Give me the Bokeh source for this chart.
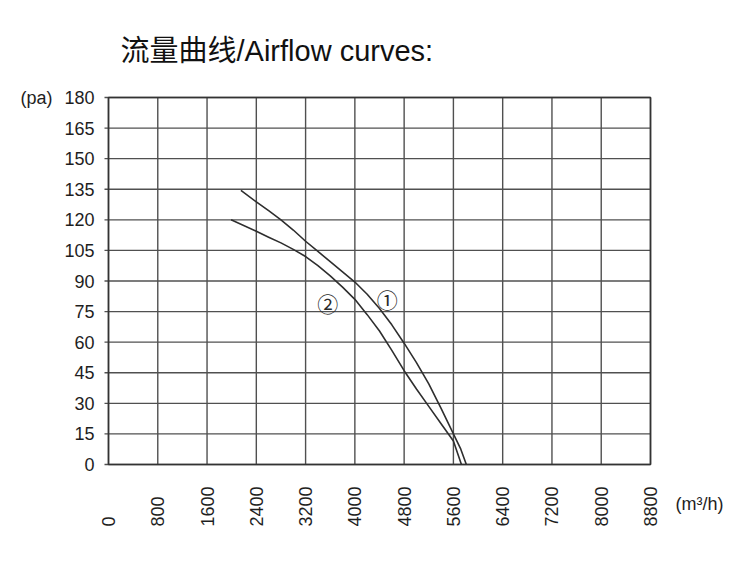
import math
from bokeh.plotting import figure
from bokeh.models import Range1d
from bokeh.core.properties import value
from bokeh.embed import file_html
from bokeh.resources import INLINE

# ---- data ----
x_ticks = [0, 800, 1600, 2400, 3200, 4000, 4800, 5600, 6400, 7200, 8000, 8800]
x_tick_labels = [str(t) for t in x_ticks]
y_ticks = [0, 15, 30, 45, 60, 75, 90, 105, 120, 135, 150, 165, 180]
y_tick_labels = [str(t) for t in y_ticks]

curve1_x = [2150, 2400, 2600, 2800, 3000, 3200, 3400, 3600, 3800, 4000,
            4200, 4400, 4600, 4800, 5000, 5200, 5400, 5600, 5720, 5810]
curve1_y = [134.5, 128.8, 124.5, 120, 115, 109.5, 104.5, 99.5, 94.5, 89.5,
            83.5, 76.5, 68.5, 59.5, 50, 39.5, 27.5, 15, 7.5, 0]

curve2_x = [1990, 2400, 2600, 2800, 3000, 3200, 3400, 3600, 3800, 4000,
            4200, 4400, 4600, 4800, 5000, 5200, 5400, 5600, 5730]
curve2_y = [120, 114.4, 111.5, 108.7, 105.5, 102, 97.5, 92.5, 87, 81,
            73.5, 65.5, 56, 46, 37, 28.5, 20, 11.5, 0]

curve_names = ["①", "②"]
curve_label_x = [4525, 3561]
curve_label_y = [81.3, 79.1]

title_text = "流量曲线/Airflow curves:"
y_unit = "(pa)"
x_unit = "(m³/h)"

# ---- page geometry: the whole canvas is the data frame ----
W, H = 750, 574
PX_LEFT, PX_RIGHT = 108, 650      # pixel columns of x = 0 and x = 8800
PX_ZERO, PX_TOP = 464, 97         # pixel rows of y = 0 and y = 180
kx = (PX_RIGHT - PX_LEFT) / (x_ticks[-1] - x_ticks[0])
ky = (PX_ZERO - PX_TOP) / (y_ticks[-1] - y_ticks[0])


def dx(px):
    return (px - PX_LEFT) / kx


def dy(py):
    return (PX_ZERO - py) / ky


FONT = "Liberation Sans, Arial, Noto Sans CJK SC"
INK = "#1e1e1e"
GRID = "#505050"

p = figure(width=W, height=H, output_backend="svg", toolbar_location=None,
           x_axis_type=None, y_axis_type=None,
           x_range=Range1d(dx(0), dx(W)), y_range=Range1d(dy(H), dy(0)),
           min_border=0, min_border_left=0, min_border_right=0,
           min_border_top=0, min_border_bottom=0)
p.title.visible = False
p.outline_line_color = None
p.background_fill_color = "white"
p.border_fill_color = "white"

x0, x1 = x_ticks[0], x_ticks[-1]
y0, y1 = y_ticks[0], y_ticks[-1]
tick_out = dx(PX_LEFT - 4)

# grid
p.segment(x0=x_ticks, y0=[y0] * len(x_ticks), x1=x_ticks, y1=[y1] * len(x_ticks),
          line_color=GRID, line_width=1.4)
p.segment(x0=[tick_out] * len(y_ticks), y0=y_ticks, x1=[x1] * len(y_ticks), y1=y_ticks,
          line_color=GRID, line_width=1.4)
# frame
p.quad(left=[x0], right=[x1], bottom=[y0], top=[y1], fill_color=None,
       line_color="#333333", line_width=1.6)

# curves
p.line(curve1_x, curve1_y, line_color="#2e2e2e", line_width=1.6, line_join="round")
p.line(curve2_x, curve2_y, line_color="#2e2e2e", line_width=1.6, line_join="round")

# curve markers
p.text(x=curve_label_x, y=curve_label_y, text=curve_names,
       text_font=value("Noto Sans CJK SC"), text_font_size="21px", text_color="#2a2a2a",
       text_align="center", text_baseline="middle")

# y tick labels
p.text(x=[dx(94)] * len(y_ticks), y=y_ticks, text=y_tick_labels,
       text_font=value(FONT), text_font_size="18px", text_color=INK,
       text_align="right", text_baseline="middle")

# x tick labels (rotated, reading upward, common starting line)
p.text(x=x_ticks, y=[dy(526)] * len(x_ticks), text=x_tick_labels, angle=math.pi / 2,
       text_font=value(FONT), text_font_size="18px", text_color=INK,
       text_align="left", text_baseline="middle")

# units and title
p.text(x=[dx(675)], y=[dy(503)], text=[x_unit], text_font=value(FONT),
       text_font_size="18px", text_color=INK, text_align="left", text_baseline="middle")
p.text(x=[dx(20)], y=[dy(97)], text=[y_unit], text_font=value(FONT),
       text_font_size="18px", text_color=INK, text_align="left", text_baseline="middle")
p.text(x=[dx(120)], y=[dy(50)], text=[title_text], text_font=value(FONT),
       text_font_size="29px", text_color="#111111", text_align="left", text_baseline="middle")

open("out.html", "w").write(file_html(p, INLINE))
